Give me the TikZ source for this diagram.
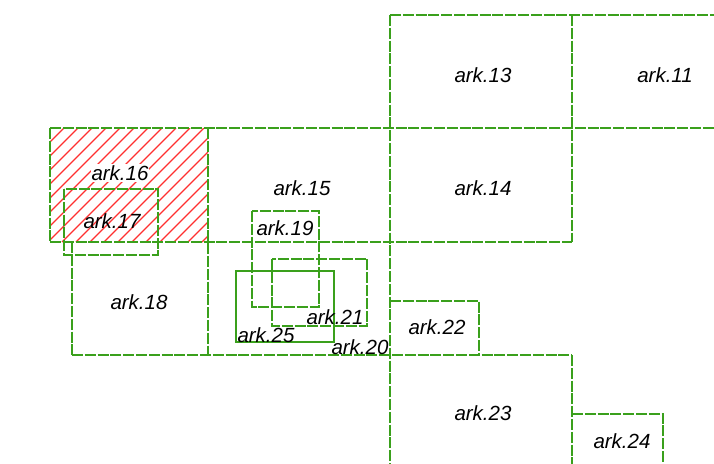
\documentclass[tikz,border=0pt]{standalone}
\usepackage{fontspec}
\setsansfont{Liberation Sans}
\usepackage{xcolor}
\usepackage{tikz}
\usetikzlibrary{positioning}
\definecolor{ArkGreen}{HTML}{3AA01C}
\definecolor{ArkRed}{HTML}{FF3030}

\begin{document}
\begin{tikzpicture}[x=1pt, y=-1pt,
    ark/.style={draw=ArkGreen, line width=1.6pt, dash pattern=on 11pt off 1.8pt},
    arksolid/.style={draw=ArkGreen, line width=1.6pt},
    hatch/.style={draw=ArkRed, line width=1.1pt},
    lbl/.style={font=\sffamily\itshape\fontsize{20.5}{24}\selectfont, inner sep=1pt}]
  \useasboundingbox (0,0) rectangle (714,463);
  \begin{scope}
  \clip (0,0) rectangle (714,463);
  % Hatching of ark.16
  \begin{scope}
    \clip (50,128) rectangle (208,242);
    \foreach \x in {-120,-106,...,220} {
      \draw[hatch] (\x,242) -- ++(114,-114);
    }
  \end{scope}
  % Grid of the big arks, each edge once
  \draw[ark] (390,15) -- (730,15);
  \draw[ark] (50,128) -- (730,128);
  \draw[ark] (50,242) -- (572,242);
  \draw[ark] (72,355) -- (572,355);
  \draw[ark] (50,128) -- (50,242);
  \draw[ark] (72,242) -- (72,355);
  \draw[ark] (208,128) -- (208,355);
  \draw[ark] (390,15) -- (390,480);
  \draw[ark] (572,15) -- (572,242);
  \draw[ark] (572,355) -- (572,480);
  % Small arks
  \draw[ark] (64,189) rectangle (158,255);
  \draw[ark] (252,211) rectangle (319,307);
  \draw[ark] (272,259) rectangle (367,326);
  \draw[arksolid] (236,271) rectangle (334,342);
  \draw[ark] (390,301) -- (479,301) -- (479,355);
  \draw[ark] (572,414) -- (663,414) -- (663,480);
  % Labels
  \node[lbl] (l13) at (483,75) {ark.13};
  \node[lbl] (l11) at (665,75) {ark.11};
  \node[lbl, fill=white] (l16) at (120,173) {ark.16};
  \node[lbl] (l17) at (112,221) {ark.17};
  \node[lbl] (l15) at (302,188) {ark.15};
  \node[lbl] (l14) at (483,188) {ark.14};
  \node[lbl] (l18) at (139,302) {ark.18};
  \node[lbl] (l19) at (285,228) {ark.19};
  \node[lbl] (l21) at (335,317) {ark.21};
  \node[lbl] (l25) at (266,335) {ark.25};
  \node[lbl] (l20) at (360,347) {ark.20};
  \node[lbl] (l22) at (437,327) {ark.22};
  \node[lbl] (l23) at (483,413) {ark.23};
  \node[lbl] (l24) at (622,441) {ark.24};
  \end{scope}
\end{tikzpicture}
\end{document}
